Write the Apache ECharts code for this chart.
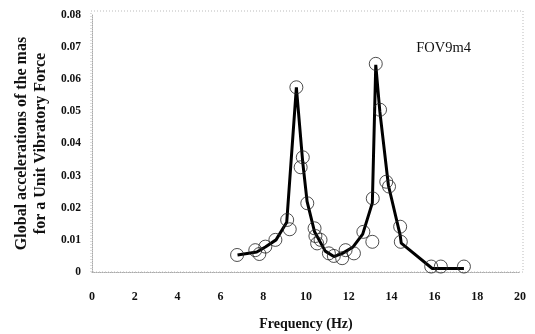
<!DOCTYPE html>
<html>
<head>
<meta charset="utf-8">
<script src="https://cdn.jsdelivr.net/npm/echarts@6/dist/echarts.min.js"></script>
<style>
  html, body { margin: 0; padding: 0; background: #fff; }
  #chart { width: 535px; height: 334px; }
</style>
</head>
<body>
<div id="chart"></div>
<script>
// Measured frequency response points (open circles)
const measFreq = [6.78, 7.63, 7.82, 8.10, 8.57, 9.12, 9.24, 9.55, 9.75, 9.85, 10.06, 10.40, 10.44, 10.52,
  10.68, 11.07, 11.30, 11.69, 11.85, 12.24, 12.68, 13.10, 13.12, 13.26, 13.46, 13.75, 13.88, 14.40, 14.43,
  15.85, 16.30, 17.38];
const measAcc = [0.0053, 0.0068, 0.0056, 0.0079, 0.0100, 0.0162, 0.0133, 0.0575, 0.0326, 0.0357, 0.0214, 0.0136, 0.0112, 0.0089,
  0.0100, 0.0058, 0.0050, 0.0043, 0.0068, 0.0058, 0.0125, 0.0094, 0.0229, 0.0648, 0.0505, 0.0281, 0.0266, 0.0141, 0.0094,
  0.0017, 0.0017, 0.0017];

// Fitted response curve (thick line)
const curveFreq = [6.8, 7.7, 8.1, 8.6, 9.1, 9.55, 9.85, 10.05, 10.4, 10.9, 11.3, 11.7, 12.2, 12.65, 13.1, 13.26, 13.45, 13.85, 14.4, 14.45, 15.9, 17.38];
const curveAcc = [0.0053, 0.0062, 0.0078, 0.0100, 0.0155, 0.0575, 0.0340, 0.0220, 0.0125, 0.0065, 0.0048, 0.0058, 0.0078, 0.0118, 0.0215, 0.0645, 0.0500, 0.0270, 0.0115, 0.0090, 0.0011, 0.0011];

const xTicks = [0, 2, 4, 6, 8, 10, 12, 14, 16, 18, 20];
const yTicks = [0, 0.01, 0.02, 0.03, 0.04, 0.05, 0.06, 0.07, 0.08];
const panelLabel = 'FOV9m4';

const serif = 'Liberation Serif';
const chart = echarts.init(document.getElementById('chart'), null, { renderer: 'canvas' });

const grid = { left: 92, right: 15, top: 15, bottom: 62, outerBoundsMode: 'none', containLabel: false };

chart.setOption({
  animation: false,
  backgroundColor: '#fff',
  grid: grid,
  xAxis: {
    type: 'value',
    min: xTicks[0],
    max: xTicks[xTicks.length - 1],
    interval: xTicks[1] - xTicks[0],
    name: 'Frequency (Hz)',
    nameLocation: 'middle',
    nameGap: 45,
    nameTextStyle: { fontFamily: serif, fontSize: 14, fontWeight: 'bold', color: '#111' },
    axisLine: { show: true, lineStyle: { color: '#aaa', type: 'dotted', width: 1 } },
    axisTick: { show: false },
    splitLine: { show: false },
    axisLabel: { margin: 19, fontFamily: serif, fontSize: 12, fontWeight: 'bold', color: '#111' }
  },
  yAxis: {
    type: 'value',
    min: yTicks[0],
    max: yTicks[yTicks.length - 1],
    interval: 0.01,
    name: 'Global accelerations of the mas\nfor a Unit Vibratory Force',
    nameLocation: 'middle',
    nameRotate: 90,
    nameGap: 41,
    nameTextStyle: { fontFamily: serif, fontSize: 16, fontWeight: 'bold', color: '#111', lineHeight: 19 },
    axisLine: { show: true, lineStyle: { color: '#aaa', type: 'dotted', width: 1 } },
    axisTick: { show: false },
    splitLine: { show: false },
    axisLabel: {
      margin: 11, fontFamily: serif, fontSize: 11.5, fontWeight: 'bold', color: '#111',
      formatter: v => (v === 0 ? '0' : v.toFixed(2))
    }
  },
  graphic: [
    {
      type: 'rect',
      shape: { x: grid.left - 1, y: 11, width: 535 - grid.right - grid.left + 4, height: 334 - grid.bottom - 11 },
      style: { fill: 'none', stroke: '#bbb', lineWidth: 1, lineDash: [1, 2] },
      silent: true
    },
    {
      type: 'text',
      right: 64, top: 41,
      style: { text: panelLabel, font: '14.5px "Liberation Serif"', fill: '#111' }
    }
  ],
  series: [
    {
      type: 'line',
      data: curveFreq.map((f, i) => [f, curveAcc[i]]),
      showSymbol: false,
      lineStyle: { color: '#000', width: 3 },
      z: 2
    },
    {
      type: 'scatter',
      data: measFreq.map((f, i) => [f, measAcc[i]]),
      symbol: 'circle',
      symbolSize: 13,
      itemStyle: { color: 'rgba(255,255,255,0)', borderColor: '#222', borderWidth: 1 },
      z: 3
    }
  ]
});
</script>
</body>
</html>
